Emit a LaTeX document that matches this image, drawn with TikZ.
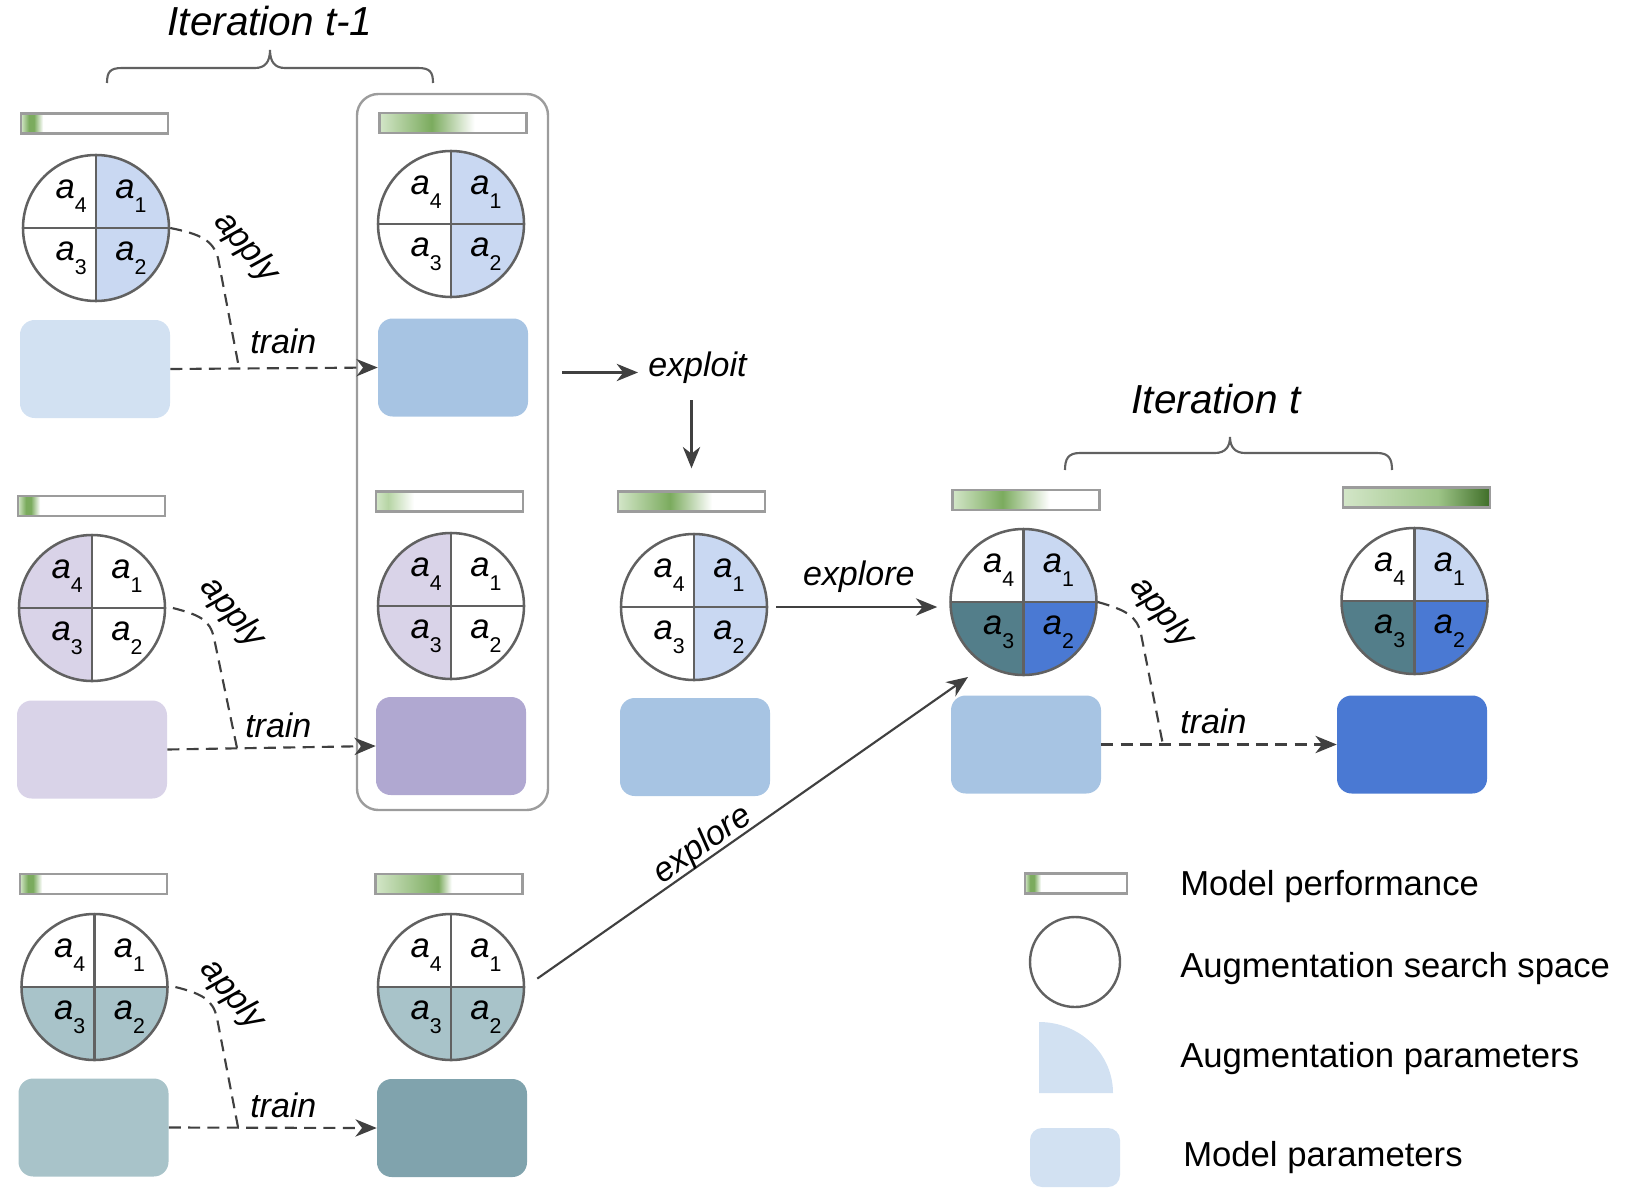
\documentclass[tikz,border=0pt]{standalone}
\usepackage{fontspec}
\setmainfont{Liberation Sans}
\usetikzlibrary{arrows.meta}
\definecolor{cgray}{HTML}{616161}
\definecolor{bgray}{HTML}{9C9C9C}
\definecolor{dgray}{HTML}{404040}
\definecolor{qblue}{HTML}{C9D8F2}
\definecolor{boxlb}{HTML}{D2E1F2}
\definecolor{boxmb}{HTML}{A7C4E3}
\definecolor{strongb}{HTML}{4A79D3}
\definecolor{darkteal}{HTML}{537E8A}
\definecolor{qpurple}{HTML}{D9D3E8}
\definecolor{boxpurple}{HTML}{B0A8D1}
\definecolor{qteal}{HTML}{A8C3C9}
\definecolor{boxteal}{HTML}{80A3AD}
\definecolor{gl}{HTML}{D3E6C8}
\definecolor{gp}{HTML}{7BAB5E}
\definecolor{gm}{HTML}{9DC487}
\definecolor{gd}{HTML}{3F6E28}
\definecolor{gs}{HTML}{B6D4A4}

% stops between 25bp (left edge) and 75bp (right edge)
\pgfdeclarehorizontalshading{shA}{100bp}{color(0bp)=(gl); color(25bp)=(gl); color(27.7bp)=(gp); color(29.4bp)=(gp); color(32.5bp)=(white); color(100bp)=(white)}
\pgfdeclarehorizontalshading{shL}{100bp}{color(0bp)=(gl); color(25bp)=(gl); color(27.5bp)=(gp); color(29.4bp)=(gp); color(32.8bp)=(white); color(100bp)=(white)}
\pgfdeclarehorizontalshading{shBa}{100bp}{color(0bp)=(gl); color(25bp)=(gl); color(42.7bp)=(gp); color(57.3bp)=(white); color(100bp)=(white)}
\pgfdeclarehorizontalshading{shBb}{100bp}{color(0bp)=(gl); color(25bp)=(gl); color(29.1bp)=(gs); color(37.9bp)=(white); color(100bp)=(white)}
\pgfdeclarehorizontalshading{shBc}{100bp}{color(0bp)=(gl); color(25bp)=(gl); color(46.4bp)=(gp); color(50.9bp)=(white); color(100bp)=(white)}
\pgfdeclarehorizontalshading{shC}{100bp}{color(0bp)=(gl); color(25bp)=(gl); color(42.7bp)=(gp); color(57bp)=(white); color(100bp)=(white)}
\pgfdeclarehorizontalshading{shD}{100bp}{color(0bp)=(gl); color(25bp)=(gl); color(42bp)=(gp); color(58bp)=(white); color(100bp)=(white)}
\pgfdeclarehorizontalshading{shE}{100bp}{color(0bp)=(gl); color(25bp)=(gl); color(57.3bp)=(gm); color(75bp)=(gd); color(100bp)=(gd)}

\newcommand\asub[1]{\textit{a}\raisebox{-11pt}{\fontsize{16pt}{16pt}\selectfont #1}}
\newcommand\augc[7]{%
  \begin{scope}
    \clip (#2,#3) circle[radius=73];
    \fill[#4] (#2,#3) rectangle ++(80,80);
    \fill[#5] (#2,#3) rectangle ++(80,-80);
    \fill[#6] (#2,#3) rectangle ++(-80,-80);
    \fill[#7] (#2,#3) rectangle ++(-80,80);
  \end{scope}
  \node[augcirc] (#1) at (#2,#3) {};
  \draw[cline] ([yshift=54.75pt]#1.center) -- ([yshift=-54.75pt]#1.center)
               ([xshift=-54.75pt]#1.center) -- ([xshift=54.75pt]#1.center);
  \node[alab, anchor=base east] at ([shift={(-9,30)}]#1.center) {\asub{4}};
  \node[alab, anchor=base west] at ([shift={(19,30)}]#1.center) {\asub{1}};
  \node[alab, anchor=base east] at ([shift={(-9,-32)}]#1.center) {\asub{3}};
  \node[alab, anchor=base west] at ([shift={(19,-32)}]#1.center) {\asub{2}};
}

\begin{document}
\begin{tikzpicture}[x=0.75pt,y=0.75pt,
  augcirc/.style={circle, draw=cgray, line width=1.9pt, minimum size=109.5pt, inner sep=0pt},
  cline/.style={draw=cgray, line width=1.9pt},
  perfbar/.style={rectangle, draw=bgray, line width=1.8pt, shade, shading=#1, minimum width=110.25pt, minimum height=15pt, inner sep=0pt},
  mbox/.style={rectangle, rounded corners=11pt, minimum width=112.5pt, minimum height=73.5pt, inner sep=0pt},
  alab/.style={font=\fontsize{26pt}{30pt}\selectfont, inner sep=0pt},
  lbl/.style={font=\fontsize{25.5pt}{30pt}\selectfont\itshape, inner sep=0pt},
  ttl/.style={font=\fontsize{30.4pt}{36pt}\selectfont\itshape, inner sep=0pt},
  legtxt/.style={font=\fontsize{26pt}{30pt}\selectfont, inner sep=0pt, anchor=base west},
  conn/.style={draw=dgray, line width=1.6pt},
  stip/.style={-{Stealth[length=16pt,width=13pt,inset=5pt]}},
  arr/.style={conn, stip},
  dashconn/.style={conn, dash pattern=on 9pt off 5.5pt},
  dasharr/.style={dashconn, stip},
  bracel/.style={draw=cgray, line width=1.6pt},
  container/.style={draw=bgray, line width=1.8pt, rounded corners=16pt, minimum width=143.25pt, minimum height=537pt, inner sep=0pt}
]
\useasboundingbox (0,0) rectangle (1626,-1202);

% titles and braces
\node[ttl, anchor=base] (t1) at (270,-36) {Iteration t-1};
\draw[bracel] (107,-83) .. controls (107,-72) and (110,-68) .. (122,-68) -- (255,-68)
  .. controls (265,-68) and (270,-62) .. (270,-50)
  .. controls (270,-62) and (275,-68) .. (285,-68) -- (418,-68)
  .. controls (430,-68) and (433,-72) .. (433,-83);
\node[ttl, anchor=base] (t2) at (1216,-413) {Iteration t};
\draw[bracel] (1065,-470) .. controls (1065,-459) and (1068,-453) .. (1080,-453) -- (1215,-453)
  .. controls (1225,-453) and (1230,-447) .. (1230,-437)
  .. controls (1230,-447) and (1235,-453) .. (1245,-453) -- (1377,-453)
  .. controls (1389,-453) and (1392,-459) .. (1392,-470);

% container
\node[container] (grp) at (452.5,-452) {};

% Row 1
\node[perfbar=shA] (ba1) at (94.5,-123.5) {};
\augc{ca1}{96}{-228}{qblue}{qblue}{white}{white}
\node[mbox, fill=boxlb] (ma1) at (95,-369) {};
\node[perfbar=shBa] (bb1) at (453,-123) {};
\augc{cb1}{451}{-224}{qblue}{qblue}{white}{white}
\node[mbox, fill=boxmb] (mb1) at (453,-367.5) {};

% Row 2
\node[perfbar=shA] (ba2) at (91.5,-506) {};
\augc{ca2}{92}{-608}{white}{white}{qpurple}{qpurple}
\node[mbox, fill=qpurple] (ma2) at (92,-749.5) {};
\node[perfbar=shBb] (bb2) at (449.5,-501.5) {};
\augc{cb2}{451}{-606}{white}{white}{qpurple}{qpurple}
\node[mbox, fill=boxpurple] (mb2) at (451,-746) {};

% Row 3
\node[perfbar=shA] (ba3) at (93.5,-884) {};
\augc{ca3}{94.5}{-987}{white}{qteal}{qteal}{white}
\node[mbox, fill=qteal] (ma3) at (93.5,-1127.5) {};
\node[perfbar=shBc] (bb3) at (449,-884) {};
\augc{cb3}{451}{-987}{white}{qteal}{qteal}{white}
\node[mbox, fill=boxteal] (mb3) at (452,-1128) {};

% exploited member C
\node[perfbar=shC] (bc) at (691.5,-501.5) {};
\augc{cc}{694}{-607}{qblue}{qblue}{white}{white}
\node[mbox, fill=boxmb] (mc) at (695,-747) {};

% explored member D
\node[perfbar=shD] (bd) at (1026,-500) {};
\augc{cd}{1023.5}{-602}{qblue}{strongb}{darkteal}{white}
\node[mbox, fill=boxmb] (md) at (1026,-744.5) {};

% trained member E
\node[perfbar=shE] (be) at (1416.5,-497.5) {};
\augc{ce}{1414.5}{-601}{qblue}{strongb}{darkteal}{white}
\node[mbox, fill=strongb] (me) at (1412,-744.5) {};

% apply / train connectors
\coordinate (m1) at (239,-368);
\draw[dashconn] (ca1.east) .. controls (200,-234) and (213,-240) .. (218,-258) -- (m1);
\draw[dasharr] (ma1.east) -- (mb1.west);
\node[lbl, rotate=-50] at (246,-247.5) {apply};
\node[lbl, anchor=base west] at (250,-353) {train};

\coordinate (m2) at (237,-748);
\draw[dashconn] ([xshift=5pt]ca2.east) .. controls (200,-615) and (210,-620) .. (214,-638) -- (m2);
\draw[dasharr] (ma2.east) -- (mb2.west);
\node[lbl, rotate=-50] at (232,-613) {apply};
\node[lbl, anchor=base west] at (245,-737) {train};

\coordinate (m3) at (238,-1127);
\draw[dashconn] ([xshift=5pt]ca3.east) .. controls (203,-994) and (213,-1000) .. (217,-1018) -- (m3);
\draw[dasharr] (ma3.east) -- (mb3.west);
\node[lbl, rotate=-50] at (232,-995) {apply};
\node[lbl, anchor=base west] at (250,-1117) {train};

\coordinate (m4) at (1163,-745);
\draw[dashconn] (cd.east) .. controls (1126,-610) and (1137,-616) .. (1141,-634) -- (m4);
\draw[dasharr] (md.east) -- (me.west);
\node[lbl, rotate=-50] at (1162,-612.5) {apply};
\node[lbl, anchor=base west] at (1180,-733) {train};

% exploit
\node[lbl, anchor=base west] (exploit) at (648,-376) {exploit};
\draw[arr, shorten <=9.75pt, shorten >=7.5pt] (grp.east |- exploit.mid west) -- (exploit.mid west);
\draw[arr, shorten <=12.75pt, shorten >=16.5pt] (bc.north |- exploit.south) -- (bc.north);

% explore
\draw[arr, shorten <=6pt, shorten >=9pt] (cc.east) -- (cc.east -| cd.west)
  node[lbl, midway, above=10pt] {explore};
\coordinate (dtip) at (968,-677);
\draw[arr, shorten <=11pt] (cb3.east) -- (dtip)
  node[lbl, pos=0.42, sloped, above=-2pt] {explore};

% legend
\node[perfbar=shL, minimum width=76.5pt] (lbar) at (1076,-883.5) {};
\node[circle, draw=cgray, line width=1.8pt, minimum size=67.5pt, inner sep=0pt] (lcirc) at (1075,-962) {};
\fill[boxlb] (1039,-1093) -- (1039,-1022) arc[start angle=90, end angle=0, x radius=74, y radius=71] -- cycle;
\node[mbox, fill=boxlb, minimum width=67.5pt, minimum height=44.25pt, rounded corners=9pt] (lbox) at (1075,-1157.5) {};
\node[legtxt] at (1180,-895) {Model performance};
\node[legtxt] at (1180,-977) {Augmentation search space};
\node[legtxt] at (1180,-1067) {Augmentation parameters};
\node[legtxt] at (1183,-1166) {Model parameters};
\end{tikzpicture}
\end{document}
